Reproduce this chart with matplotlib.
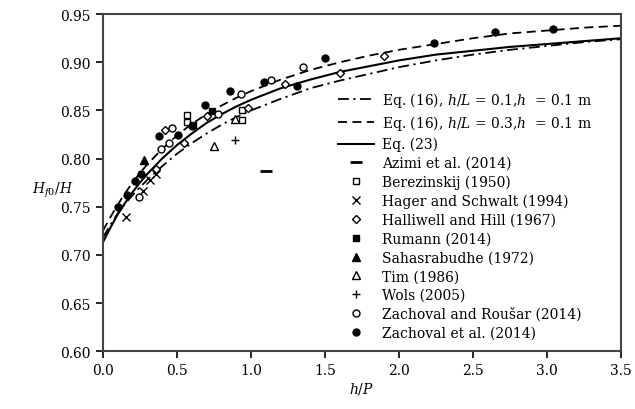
import matplotlib
matplotlib.use('Agg')
import matplotlib.pyplot as plt

# curves
curve_x = [0.0, 0.05, 0.1, 0.15, 0.2, 0.25, 0.3, 0.4, 0.5, 0.6, 0.7, 0.8, 0.9, 1.0,
           1.2, 1.4, 1.6, 1.8, 2.0, 2.25, 2.5, 2.75, 3.0, 3.25, 3.5]
eq16_01 = [0.718, 0.731, 0.743, 0.753, 0.762, 0.770, 0.778, 0.792, 0.805, 0.816, 0.826, 0.835, 0.843, 0.850,
           0.862, 0.873, 0.881, 0.888, 0.895, 0.902, 0.908, 0.913, 0.917, 0.921, 0.924]
eq16_03 = [0.725, 0.739, 0.752, 0.764, 0.775, 0.785, 0.794, 0.810, 0.824, 0.836, 0.846, 0.855, 0.863, 0.870,
           0.882, 0.892, 0.900, 0.907, 0.913, 0.919, 0.925, 0.930, 0.933, 0.936, 0.938]
eq23 = [0.713, 0.728, 0.742, 0.754, 0.765, 0.775, 0.784, 0.800, 0.814, 0.826, 0.837, 0.846, 0.854, 0.861,
        0.873, 0.882, 0.890, 0.896, 0.902, 0.908, 0.912, 0.916, 0.919, 0.922, 0.925]

# measured data
azimi_x, azimi_y = [1.10], [0.787]
berez_x = [0.57, 0.57, 0.94, 0.94]
berez_y = [0.845, 0.838, 0.850, 0.840]
hager_x = [0.155, 0.27, 0.32, 0.36]
hager_y = [0.739, 0.766, 0.778, 0.784]
halli_x = [0.36, 0.42, 0.55, 0.70, 0.98, 1.23, 1.60, 1.90]
halli_y = [0.789, 0.830, 0.816, 0.844, 0.853, 0.877, 0.889, 0.907]
rumann_x = [0.61, 0.74]
rumann_y = [0.835, 0.849]
sahas_x, sahas_y = [0.28], [0.799]
tim_x = [0.75, 0.89]
tim_y = [0.813, 0.841]
wols_x, wols_y = [0.89], [0.819]
zr_x = [0.245, 0.39, 0.45, 0.47, 0.775, 0.93, 1.135, 1.35]
zr_y = [0.760, 0.810, 0.816, 0.832, 0.846, 0.867, 0.882, 0.895]
zal_x = [0.10, 0.165, 0.216, 0.26, 0.38, 0.51, 0.60, 0.69, 0.86, 1.09, 1.31, 1.50, 2.24, 2.65, 3.04]
zal_y = [0.750, 0.762, 0.777, 0.784, 0.823, 0.824, 0.834, 0.856, 0.870, 0.880, 0.875, 0.905, 0.920, 0.931, 0.935]

plt.rcParams['font.family'] = ['DejaVu Serif']
plt.rcParams['mathtext.fontset'] = 'dejavuserif'
plt.rcParams['font.size'] = 10

fig = plt.figure(figsize=(6.35, 4.1), dpi=100)
ax = fig.add_axes([0.162, 0.141, 0.816, 0.822])

ax.plot(curve_x, eq16_01, color='black', lw=1.3, ls=(0, (6, 2.5, 1.2, 2.5)),
        label='Eq. (16), $h/L$ = 0.1,$h$  = 0.1 m')
ax.plot(curve_x, eq16_03, color='black', lw=1.3, ls=(0, (5, 3)),
        label='Eq. (16), $h/L$ = 0.3,$h$  = 0.1 m')
ax.plot(curve_x, eq23, color='black', lw=1.5, label='Eq. (23)')

ms = 5
ax.plot(azimi_x, azimi_y, ls='none', marker='_', ms=8, mew=2, color='black', label='Azimi et al. (2014)')
ax.plot(berez_x, berez_y, ls='none', marker='s', ms=ms, mfc='white', mec='black', label='Berezinskij (1950)')
ax.plot(hager_x, hager_y, ls='none', marker='x', ms=ms + 1, color='black', label='Hager and Schwalt (1994)')
ax.plot(halli_x, halli_y, ls='none', marker='D', ms=ms - 1, mfc='white', mec='black', label='Halliwell and Hill (1967)')
ax.plot(rumann_x, rumann_y, ls='none', marker='s', ms=ms, color='black', label='Rumann (2014)')
ax.plot(sahas_x, sahas_y, ls='none', marker='^', ms=ms + 1, color='black', label='Sahasrabudhe (1972)')
ax.plot(tim_x, tim_y, ls='none', marker='^', ms=ms + 1, mfc='white', mec='black', label='Tim (1986)')
ax.plot(wols_x, wols_y, ls='none', marker='+', ms=ms + 1, color='black', label='Wols (2005)')
ax.plot(zr_x, zr_y, ls='none', marker='o', ms=ms, mfc='white', mec='black', label='Zachoval and Roušar (2014)')
ax.plot(zal_x, zal_y, ls='none', marker='o', ms=ms, color='black', label='Zachoval et al. (2014)')

ax.set_xlim(0, 3.5)
ax.set_ylim(0.6, 0.95)
ax.set_xticks([0.0, 0.5, 1.0, 1.5, 2.0, 2.5, 3.0, 3.5])
ax.set_xticklabels(['%.1f' % v for v in ax.get_xticks()])
ax.set_yticks([0.60, 0.65, 0.70, 0.75, 0.80, 0.85, 0.90, 0.95])
ax.set_yticklabels(['%.2f' % v for v in ax.get_yticks()])
ax.tick_params(direction='out', length=5, width=1.2, colors='black')
for s in ax.spines.values():
    s.set_linewidth(1.5)
    s.set_color('#444444')

ax.set_xlabel('$h/P$', labelpad=2)
ax.set_ylabel('$H_{f0}/H$', rotation=0, va='center')
ax.yaxis.set_label_coords(-0.097, 0.48)

ax.legend(loc='upper left', bbox_to_anchor=(0.44, 0.797), frameon=False,
          handlelength=2.6, handletextpad=0.6, labelspacing=0.34, borderpad=0)

fig.savefig('out.png', dpi=100)
